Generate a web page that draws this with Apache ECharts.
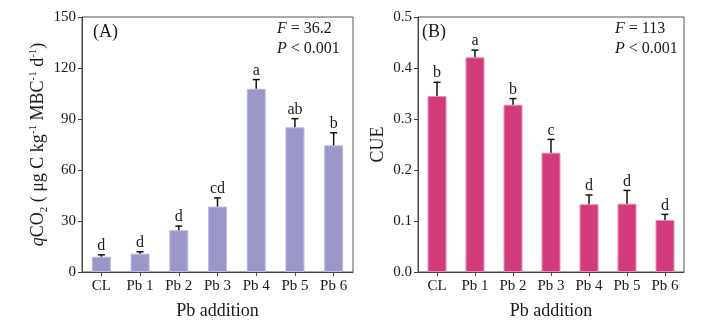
<!DOCTYPE html>
<html>
<head>
<meta charset="utf-8">
<script src="https://cdn.jsdelivr.net/npm/echarts@6/dist/echarts.min.js"></script>
<style>
html,body{margin:0;padding:0;background:#fff;}
#c{width:723px;height:333px;}
</style>
</head>
<body>
<div id="c"></div>
<script>
var categories = ['CL', 'Pb 1', 'Pb 2', 'Pb 3', 'Pb 4', 'Pb 5', 'Pb 6'];
var qco2Mean = [9.0, 10.8, 24.6, 38.5, 107.8, 85.1, 74.5];
var qco2Err = [1.1, 1.1, 2.4, 5.1, 5.4, 5.1, 7.4];
var qco2Letters = ['d', 'd', 'd', 'cd', 'a', 'ab', 'b'];
var cueMean = [0.345, 0.421, 0.328, 0.234, 0.133, 0.134, 0.102];
var cueErr = [0.027, 0.014, 0.012, 0.026, 0.018, 0.026, 0.011];
var cueLetters = ['b', 'a', 'b', 'c', 'd', 'd', 'd'];
var qco2Axis = {min: 0, max: 150, interval: 30};
var cueAxis = {min: 0, max: 0.5, interval: 0.1};

var FONT = '"Liberation Serif", "Times New Roman", serif';
var TXT = '#1a1a1a';
var chart = echarts.init(document.getElementById('c'), null, {renderer: 'canvas'});

function xAxisCfg(gi) {
  return {
    type: 'category', gridIndex: gi, data: categories,
    name: 'Pb addition', nameLocation: 'middle', nameGap: 30,
    nameTextStyle: {fontFamily: FONT, fontSize: 18, color: TXT},
    axisLine: {lineStyle: {color: '#444', width: 1}},
    axisTick: {show: true, alignWithLabel: true, length: 4, lineStyle: {color: '#444'}},
    axisLabel: {fontFamily: FONT, fontSize: 15, color: TXT, margin: 7},
    splitLine: {show: false}
  };
}
function yAxisCfg(gi, rng, name, nameGap, fmt) {
  return {
    type: 'value', gridIndex: gi, min: rng.min, max: rng.max, interval: rng.interval,
    name: name, nameLocation: 'middle', nameGap: nameGap, nameRotate: 90,
    nameTextStyle: {
      fontFamily: FONT, fontSize: 18, color: TXT,
      rich: {
        n: {fontFamily: FONT, fontSize: 18, color: TXT, lineHeight: 22, verticalAlign: 'middle'},
        i: {fontFamily: FONT, fontSize: 18, color: TXT, fontStyle: 'italic', lineHeight: 22, verticalAlign: 'middle'},
        sup: {fontFamily: FONT, fontSize: 11, color: TXT, lineHeight: 11, verticalAlign: 'top'},
        sub: {fontFamily: FONT, fontSize: 11, color: TXT, lineHeight: 11, verticalAlign: 'bottom'}
      }
    },
    axisLine: {show: true, lineStyle: {color: '#444', width: 1}},
    axisTick: {show: true, length: 4, lineStyle: {color: '#444'}},
    axisLabel: {fontFamily: FONT, fontSize: 15, color: TXT, margin: 6, formatter: fmt},
    splitLine: {show: false}
  };
}
function errSeries(gi, mean, err, letters) {
  return {
    type: 'custom', xAxisIndex: gi, yAxisIndex: gi, z: 5,
    data: mean.map(function (m, i) { return [i, m, m + err[i]]; }),
    renderItem: function (params, api) {
      var i = api.value(0);
      var p0 = api.coord([i, api.value(1)]);
      var p1 = api.coord([i, api.value(2)]);
      var cap = 3.5;
      return {
        type: 'group',
        children: [
          {type: 'line', shape: {x1: p0[0], y1: p0[1], x2: p1[0], y2: p1[1]}, style: {stroke: '#111', lineWidth: 1.5}},
          {type: 'line', shape: {x1: p1[0] - cap, y1: p1[1], x2: p1[0] + cap, y2: p1[1]}, style: {stroke: '#111', lineWidth: 1.5}},
          {type: 'text', x: p1[0], y: p1[1] - 1, style: {text: letters[params.dataIndex], fill: TXT, font: '16px ' + FONT, align: 'center', verticalAlign: 'bottom'}}
        ]
      };
    }
  };
}
var statRich = {
  i: {fontFamily: FONT, fontSize: 16, fontStyle: 'italic', fill: TXT},
  n: {fontFamily: FONT, fontSize: 16, fill: TXT}
};
var option = {
  backgroundColor: '#fff',
  animation: false,
  grid: [
    {left: 82, top: 17, right: 370, bottom: 61, show: true, borderColor: '#555', borderWidth: 1, backgroundColor: 'transparent'},
    {left: 418, top: 17, right: 39, bottom: 61, show: true, borderColor: '#555', borderWidth: 1, backgroundColor: 'transparent'}
  ],
  xAxis: [xAxisCfg(0), xAxisCfg(1)],
  yAxis: [
    yAxisCfg(0, qco2Axis, '{i|q}{n|CO}{sub|2}{n| ( μg C kg}{sup|-1}{n| MBC}{sup|-1}{n| d}{sup|-1}{n|)}', 27, null),
    yAxisCfg(1, cueAxis, 'CUE', 31, function (v) { return v.toFixed(1); })
  ],
  series: [
    {type: 'bar', xAxisIndex: 0, yAxisIndex: 0, data: qco2Mean, barWidth: 19,
     itemStyle: {color: '#9b98c9', borderColor: '#bdbadf', borderWidth: 1}},
    errSeries(0, qco2Mean, qco2Err, qco2Letters),
    {type: 'bar', xAxisIndex: 1, yAxisIndex: 1, data: cueMean, barWidth: 19,
     itemStyle: {color: '#d33c7a', borderColor: '#e98db3', borderWidth: 1}},
    errSeries(1, cueMean, cueErr, cueLetters)
  ],
  graphic: [
    {type: 'text', left: 93, top: 23, style: {text: '(A)', font: '18px ' + FONT, fill: TXT}},
    {type: 'text', left: 277, top: 21, style: {text: '{i|F}{n| = 36.2}', rich: statRich}},
    {type: 'text', left: 277, top: 41, style: {text: '{i|P}{n| < 0.001}', rich: statRich}},
    {type: 'text', left: 422, top: 23, style: {text: '(B)', font: '18px ' + FONT, fill: TXT}},
    {type: 'text', left: 615, top: 21, style: {text: '{i|F}{n| = 113}', rich: statRich}},
    {type: 'text', left: 615, top: 41, style: {text: '{i|P}{n| < 0.001}', rich: statRich}}
  ]
};
chart.setOption(option);
</script>
</body>
</html>
